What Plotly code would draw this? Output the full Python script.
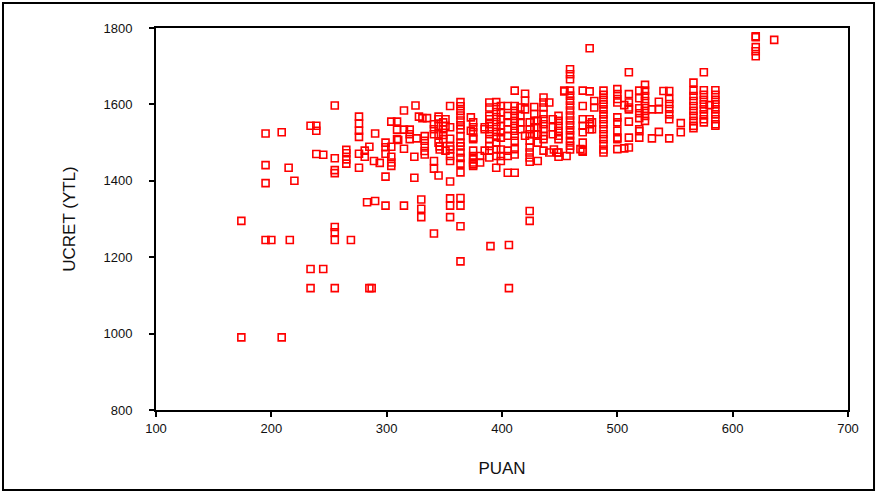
import plotly.graph_objects as go

# PUAN values (x) and the UCRET values (y) observed at each of them
puan_values = [174, 195, 200, 209, 215, 216, 220, 234, 239, 245, 255, 265, 269, 276, 281, 283,
               285, 287, 289, 290, 294, 299, 304, 309, 310, 315, 320, 324, 325, 326, 328, 330,
               331, 333, 335, 341, 345, 346, 349, 351, 355, 364, 373, 375, 381, 385, 389, 390,
               395, 399, 405, 406, 411, 416, 420, 424, 428, 431, 436, 441, 444, 445, 448, 449,
               454, 456, 459, 468, 470, 476, 478, 480, 488, 500, 506, 510, 519, 524, 530, 536,
               540, 545, 555, 566, 575, 580, 585, 620, 636]

ucret_values = [
    [1295, 990],
    [1524, 1441, 1394, 1245],
    [1245],
    [1527, 990],
    [1434],
    [1245],
    [1400],
    [1544, 1169, 1119],
    [1544, 1531, 1470],
    [1468, 1169],
    [1597, 1459, 1428, 1420, 1279, 1265, 1245, 1119],
    [1481, 1472, 1456, 1445],
    [1245],
    [1568, 1550, 1531, 1515, 1471, 1434],
    [1479, 1463],
    [1344],
    [1489, 1119],
    [1119],
    [1452],
    [1524, 1347],
    [1447],
    [1500, 1488, 1471, 1411, 1335],
    [1555, 1489, 1463, 1448, 1439],
    [1555, 1534, 1509],
    [1507],
    [1584, 1534, 1484, 1335],
    [1534, 1522, 1509],
    [1463, 1408],
    [1597],
    [1511],
    [1568],
    [1351, 1327, 1305],
    [1564],
    [1517, 1505, 1491, 1478, 1469],
    [1564],
    [1548, 1535, 1522, 1452, 1432, 1262],
    [1568, 1561, 1544, 1522, 1500, 1414],
    [1490, 1482],
    [1553, 1535, 1520, 1509],
    [1561, 1544, 1479],
    [1596, 1540, 1510, 1490, 1482, 1465, 1452, 1398, 1354, 1335, 1305],
    [1606, 1595, 1583, 1571, 1558, 1545, 1535, 1517, 1500, 1490, 1474, 1460, 1445, 1422,
     1355, 1335, 1281, 1189],
    [1566, 1531],
    [1553, 1540, 1527, 1513, 1509, 1479, 1465, 1456, 1448, 1443, 1439],
    [1465, 1448],
    [1540, 1535, 1479],
    [1605, 1592, 1570, 1561, 1548, 1535, 1522, 1509, 1491, 1479, 1461],
    [1229],
    [1606, 1593, 1580, 1567, 1554, 1541, 1528, 1515, 1500, 1482, 1465, 1434],
    [1596, 1579, 1561, 1544, 1527, 1513, 1482, 1465, 1452],
    [1596, 1570, 1553, 1535, 1518, 1479, 1465, 1421],
    [1232, 1119],
    [1636, 1596, 1583, 1570, 1557, 1544, 1531, 1518, 1505, 1483, 1469, 1421],
    [1592, 1570, 1553, 1535],
    [1628, 1610, 1587, 1518],
    [1553, 1535, 1522, 1505, 1487, 1474, 1461, 1450, 1321, 1295],
    [1593, 1575, 1557, 1540, 1522],
    [1557, 1540, 1522, 1500, 1452],
    [1618, 1605, 1592, 1575, 1561, 1548, 1535, 1518, 1509, 1479],
    [1605, 1474],
    [1561, 1540, 1522],
    [1482],
    [1474],
    [1570, 1557, 1544, 1531, 1518, 1509, 1474, 1463],
    [1636, 1634],
    [1465],
    [1692, 1679, 1666, 1636, 1623, 1610, 1597, 1584, 1571, 1558, 1545, 1532, 1519, 1505,
     1492, 1482],
    [1483],
    [1636, 1596, 1561, 1544, 1527, 1500, 1479, 1476],
    [1747, 1634, 1561, 1548, 1535],
    [1553, 1535],
    [1609, 1592],
    [1636, 1625, 1612, 1600, 1587, 1574, 1561, 1548, 1535, 1522, 1509, 1496, 1482, 1474],
    [1640, 1627, 1614, 1605, 1566, 1553, 1531, 1513, 1509, 1483],
    [1598, 1485],
    [1684, 1627, 1605, 1592, 1587, 1555, 1513, 1487],
    [1636, 1616, 1590, 1577, 1564, 1535, 1530, 1513],
    [1651, 1636, 1622, 1609, 1596, 1583, 1570, 1557],
    [1587, 1511],
    [1607, 1587, 1528],
    [1635],
    [1635, 1614, 1601, 1588, 1574, 1561, 1511],
    [1551, 1527],
    [1657, 1636, 1622, 1609, 1596, 1583, 1570, 1557, 1544, 1538],
    [1684, 1637, 1625, 1612, 1600, 1587, 1574, 1561, 1553],
    [1598],
    [1637, 1625, 1612, 1600, 1587, 1574, 1561, 1548, 1544],
    [1778, 1776, 1750, 1739, 1726],
    [1769],
]

x_ticks = [100, 200, 300, 400, 500, 600, 700]
y_ticks = [800, 1000, 1200, 1400, 1600, 1800]

xs, ys = [], []
for p, col in zip(puan_values, ucret_values):
    for u in col:
        xs.append(p)
        ys.append(u)

fig = go.Figure(go.Scatter(
    x=xs, y=ys, mode="markers",
    marker=dict(symbol="square-open", size=7, color="#ff0000",
                line=dict(color="#ff0000", width=1.6)),
    showlegend=False,
))

font_family = "Liberation Sans, Arial, sans-serif"
axis_common = dict(
    showgrid=False, zeroline=False, showline=True, linecolor="black", linewidth=2,
    mirror=True, ticks="outside", ticklen=5, tickwidth=1.5, tickcolor="black",
    tickfont=dict(family=font_family, size=13, color="#111"),
)

fig.update_layout(
    width=877, height=493,
    margin=dict(l=156, r=29, t=28, b=83),
    paper_bgcolor="white", plot_bgcolor="white",
    font=dict(family=font_family, color="#111"),
    xaxis=dict(range=[100, 700], tickvals=x_ticks,
               title=dict(text="PUAN", font=dict(size=17), standoff=28), **axis_common),
    yaxis=dict(range=[800, 1800], tickvals=y_ticks, ticklabelstandoff=14,
               title=dict(text="UCRET (YTL)", font=dict(size=17), standoff=24), **axis_common),
    shapes=[dict(type="rect", xref="paper", yref="paper",
                 x0=-0.2211, x1=1.0376, y0=-0.2094, y1=1.0654,
                 line=dict(color="black", width=2), fillcolor="rgba(0,0,0,0)", layer="below")],
)

fig.write_html("out.html", config={"displayModeBar": False},
               post_script="document.body.style.margin='0';")
